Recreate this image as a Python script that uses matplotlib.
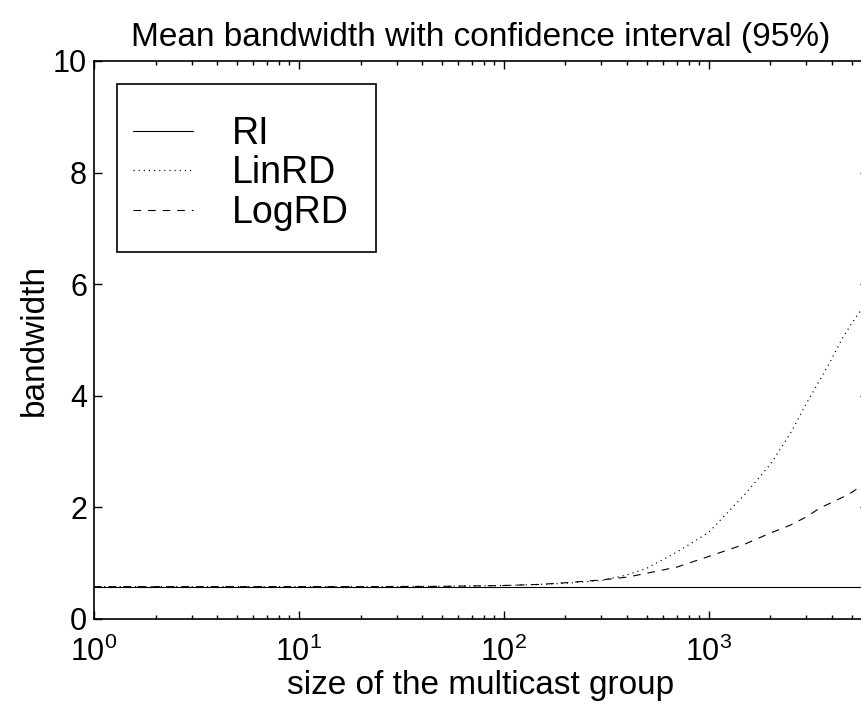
import matplotlib
matplotlib.use('Agg')
import matplotlib.pyplot as plt
from matplotlib.patches import Rectangle

# group sizes
group_size = [1, 2, 5, 10, 20, 50, 100, 150, 200, 300, 400, 500, 700,
              1000, 1500, 2000, 2500, 3000, 3500, 4000, 4500, 5000, 5500, 6000]

# mean bandwidth per protocol
bw_ri = [0.58] * len(group_size)
bw_linrd = [0.58, 0.58, 0.58, 0.58, 0.58, 0.585, 0.60, 0.62, 0.64, 0.69, 0.79, 0.91, 1.20,
            1.55, 2.23, 2.77, 3.32, 3.86, 4.29, 4.67, 5.03, 5.30, 5.52, 5.72]
bw_logrd = [0.58, 0.58, 0.58, 0.58, 0.58, 0.585, 0.60, 0.62, 0.65, 0.70, 0.75, 0.82, 0.93,
            1.12, 1.34, 1.54, 1.68, 1.83, 1.99, 2.09, 2.18, 2.27, 2.37, 2.45]

plt.rcParams['font.family'] = ['Liberation Sans', 'DejaVu Sans']
plt.rcParams['mathtext.fontset'] = 'custom'
plt.rcParams['mathtext.rm'] = 'Liberation Sans'
plt.rcParams['mathtext.it'] = 'Liberation Sans:italic'
plt.rcParams['mathtext.bf'] = 'Liberation Sans:bold'
plt.rcParams['mathtext.default'] = 'regular'
plt.rcParams['lines.scale_dashes'] = False

fig = plt.figure(figsize=(8.62, 7.04), dpi=100)
ax = fig.add_axes([94 / 862, 85 / 704, 774 / 862, 558 / 704])

ax.plot(group_size, bw_ri, color='black', linewidth=0.8, label='RI')
ax.plot(group_size, bw_linrd, color='black', linewidth=0.9,
        linestyle=(0, (0.8, 2.9)), label='LinRD')
ax.plot(group_size, bw_logrd, color='black', linewidth=0.8,
        linestyle=(0, (5.5, 5)), label='LogRD')

ax.set_xscale('log')
ax.set_xlim(1, 6000)
ax.set_ylim(0, 10)
ax.set_yticks([0, 2, 4, 6, 8, 10])

ax.set_title('Mean bandwidth with confidence interval (95%)', fontsize=24, pad=11)
ax.set_xlabel('size of the multicast group', fontsize=24, labelpad=1)
ax.set_ylabel('bandwidth', fontsize=24, labelpad=2.5)

ax.tick_params(which='both', direction='in', top=True, right=True, width=1)
ax.tick_params(which='major', length=6, labelsize=22)
ax.tick_params(axis='x', which='major', pad=13)
ax.tick_params(axis='y', which='major', pad=5)
ax.tick_params(which='minor', length=3)
for s in ax.spines.values():
    s.set_linewidth(1.2)

# legend box drawn separately (matlab style, extra vertical room)
ax.add_patch(Rectangle((23 / 774, (619 - 252) / 558), 259 / 774, 168 / 558,
                       transform=ax.transAxes, fill=True, facecolor='white',
                       edgecolor='black', linewidth=1.2, zorder=4))
leg = ax.legend(loc='upper left', bbox_to_anchor=(39 / 774, (619 - 116) / 558),
                borderaxespad=0, fontsize=27, frameon=False,
                handlelength=1.6, handletextpad=1.05,
                labelspacing=0.09, borderpad=0)
leg.set_zorder(5)

plt.savefig('out.png', dpi=100)
